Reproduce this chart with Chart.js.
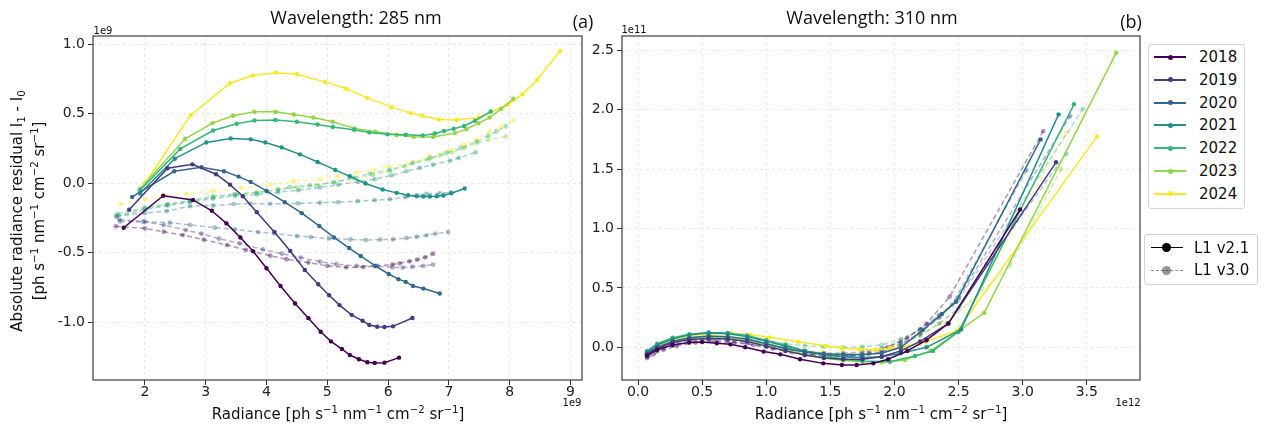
<!DOCTYPE html>
<html><head><meta charset="utf-8">
<script src="https://cdn.jsdelivr.net/npm/chart.js@4.4.1/dist/chart.umd.min.js"></script>
<style>
body{margin:0;background:#fff;}
#wrap{position:relative;width:1261px;height:430px;overflow:hidden;font-family:'DejaVu Sans',sans-serif;color:#111;background:#fff;}
.box{position:absolute;}
.t{position:absolute;white-space:nowrap;transform:translate(-50%,-50%);line-height:1;}
.ttl{font-family:'Open Sans','Liberation Sans',sans-serif;font-size:18px;color:#111;}
.rot{transform:translate(-50%,-50%) rotate(-90deg);}
sup{font-size:0.68em;vertical-align:0.5em;line-height:0}
sub{font-size:0.68em;vertical-align:-0.3em;line-height:0}
.leg{position:absolute;background:#fff;border:1px solid #d4d4d4;border-radius:3px;}
.lrow{position:absolute;left:0;right:0;height:0;}
.lline{position:absolute;height:0;}
.ldot{position:absolute;border-radius:50%;}
.ltxt{position:absolute;font-size:15px;line-height:1;transform:translateY(-50%);white-space:nowrap;color:#111;}
</style></head>
<body><div id="wrap">
<div class="box" style="left:0;top:0;width:600px;height:430px"><canvas id="c285"></canvas></div>
<div class="box" style="left:585px;top:0;width:676px;height:430px"><canvas id="c310"></canvas></div>

<div class="t ttl" style="left:356px;top:17px">Wavelength: 285 nm</div>
<div class="t ttl" style="left:583px;top:21px">(a)</div>
<div class="t ttl" style="left:872px;top:17px">Wavelength: 310 nm</div>
<div class="t ttl" style="left:1131px;top:21px">(b)</div>

<div class="t" style="left:103px;top:31px;font-size:10px">1e9</div>
<div class="t" style="left:634px;top:30px;font-size:10px">1e11</div>
<div class="t" style="left:572px;top:403px;font-size:10px">1e9</div>
<div class="t" style="left:1128px;top:403px;font-size:10px">1e12</div>

<div class="t" style="left:338px;top:414px;font-size:15px">Radiance [ph s<sup>−1</sup> nm<sup>−1</sup> cm<sup>−2</sup> sr<sup>−1</sup>]</div>
<div class="t" style="left:881px;top:414px;font-size:15px">Radiance [ph s<sup>−1</sup> nm<sup>−1</sup> cm<sup>−2</sup> sr<sup>−1</sup>]</div>
<div class="t rot" style="left:17px;top:211px;font-size:15px">Absolute radiance residual I<sub>1</sub> - I<sub>0</sub></div>
<div class="t rot" style="left:39px;top:211px;font-size:15px">[ph s<sup>−1</sup> nm<sup>−1</sup> cm<sup>−2</sup> sr<sup>−1</sup>]</div>

<div id="leg1" class="leg" style="left:1148px;top:44px;width:95px;height:163px"></div>
<div id="leg2" class="leg" style="left:1144px;top:234px;width:112px;height:49px"></div>
</div>
<script>
const years = [2018, 2019, 2020, 2021, 2022, 2023, 2024];
const yearColors = ['#440154', '#443983', '#31688e', '#21918c', '#35b779', '#90d743', '#fde725'];
const versionLabels = ['L1 v2.1', 'L1 v3.0'];

const xTicks285 = [2, 3, 4, 5, 6, 7, 8, 9];
const yTicks285 = [-1.0, -0.5, 0.0, 0.5, 1.0];
const xTicks310 = [0, 0.5, 1.0, 1.5, 2.0, 2.5, 3.0, 3.5];
const yTicks310 = [0, 0.5, 1.0, 1.5, 2.0, 2.5];

// ---- 285 nm, L1 v2.1 (x: 1e9, y: 1e9) ----
const v21_285_2018 = [[1.65,-0.32],[2.30,-0.09],[2.79,-0.12],[3.10,-0.198],[3.34,-0.289],[3.57,-0.39],[3.78,-0.49],[4.00,-0.612],[4.23,-0.739],[4.47,-0.865],[4.69,-0.971],[4.89,-1.069],[5.06,-1.138],[5.24,-1.193],[5.37,-1.236],[5.52,-1.267],[5.66,-1.288],[5.78,-1.293],[5.94,-1.291],[6.18,-1.255]];
const v21_285_2019 = [[1.74,-0.19],[2.37,0.108],[2.78,0.136],[3.17,0.065],[3.40,-0.01],[3.61,-0.093],[3.84,-0.208],[4.13,-0.351],[4.39,-0.488],[4.63,-0.624],[4.85,-0.727],[5.03,-0.806],[5.20,-0.877],[5.40,-0.947],[5.58,-0.99],[5.69,-1.02],[5.82,-1.033],[5.94,-1.035],[6.08,-1.03],[6.40,-0.97]];
const v21_285_2020 = [[1.79,-0.098],[2.48,0.086],[2.93,0.115],[3.30,0.086],[3.54,0.048],[3.74,0.01],[4.00,-0.055],[4.30,-0.136],[4.58,-0.215],[4.87,-0.308],[5.11,-0.39],[5.36,-0.466],[5.55,-0.524],[5.79,-0.595],[6.01,-0.653],[6.17,-0.69],[6.29,-0.71],[6.41,-0.739],[6.58,-0.758],[6.85,-0.793]];
const v21_285_2021 = [[1.92,-0.074],[2.49,0.177],[3.01,0.294],[3.41,0.323],[3.74,0.316],[3.98,0.294],[4.25,0.258],[4.55,0.208],[4.84,0.153],[5.13,0.096],[5.37,0.05],[5.63,-0.002],[5.91,-0.045],[6.14,-0.069],[6.33,-0.086],[6.47,-0.093],[6.58,-0.095],[6.69,-0.095],[6.80,-0.093],[6.91,-0.088],[7.04,-0.072],[7.26,-0.038]];
const v21_285_2022 = [[1.92,-0.05],[2.58,0.247],[3.12,0.38],[3.51,0.428],[3.80,0.452],[4.15,0.455],[4.50,0.443],[4.84,0.423],[5.09,0.405],[5.44,0.385],[5.69,0.366],[5.99,0.352],[6.29,0.349],[6.57,0.344],[6.77,0.359],[6.92,0.376],[7.08,0.392],[7.25,0.412],[7.43,0.45],[7.69,0.517]];
const v21_285_2023 = [[1.92,-0.04],[2.66,0.32],[3.11,0.433],[3.45,0.486],[3.80,0.514],[4.15,0.514],[4.45,0.495],[4.77,0.473],[5.09,0.443],[5.45,0.395],[5.79,0.371],[6.14,0.347],[6.42,0.335],[6.74,0.333],[7.10,0.361],[7.29,0.39],[7.49,0.433],[7.67,0.473],[7.86,0.536],[8.06,0.608]];
const v21_285_2024 = [[2.00,0.0],[2.75,0.49],[3.40,0.72],[3.77,0.775],[4.15,0.796],[4.50,0.785],[4.96,0.73],[5.31,0.68],[5.66,0.615],[6.06,0.548],[6.37,0.505],[6.56,0.486],[6.84,0.459],[7.13,0.455],[7.49,0.474],[7.97,0.565],[8.21,0.64],[8.45,0.744],[8.83,0.952]];

// ---- 285 nm, L1 v3.0 (dashed) ----
const v30_285_a = [[1.52,-0.31],[2.0,-0.325],[2.31,-0.349],[2.62,-0.373],[2.97,-0.406],[3.35,-0.445],[3.66,-0.48],[4.06,-0.521],[4.33,-0.547],[4.69,-0.571],[5.0,-0.595],[5.31,-0.605],[5.59,-0.603],[5.82,-0.595],[6.07,-0.585],[6.19,-0.576],[6.35,-0.562],[6.48,-0.55],[6.61,-0.533],[6.74,-0.507]];
const v30_285_b = [[1.58,-0.262],[1.97,-0.275],[2.31,-0.301],[2.67,-0.337],[2.93,-0.363],[3.22,-0.399],[3.56,-0.433],[3.94,-0.476],[4.25,-0.507],[4.56,-0.535],[4.88,-0.564],[5.15,-0.583],[5.48,-0.595],[5.78,-0.595],[6.07,-0.605],[6.24,-0.607],[6.40,-0.6],[6.58,-0.595],[6.74,-0.585]];
const v30_285_c = [[1.59,-0.275],[2.0,-0.277],[2.41,-0.284],[2.74,-0.299],[3.15,-0.32],[3.48,-0.332],[3.86,-0.351],[4.13,-0.361],[4.5,-0.38],[4.73,-0.387],[5.03,-0.397],[5.38,-0.404],[5.63,-0.409],[5.87,-0.406],[6.08,-0.404],[6.30,-0.394],[6.47,-0.385],[6.63,-0.375],[6.78,-0.363],[6.99,-0.351]];
const v30_285_d = [[1.53,-0.237],[2.0,-0.215],[2.36,-0.2],[2.74,-0.165],[3.12,-0.16],[3.46,-0.15],[3.73,-0.146],[4.06,-0.148],[4.52,-0.145],[4.88,-0.14],[5.18,-0.136],[5.5,-0.129],[5.78,-0.122],[6.03,-0.115],[6.28,-0.1],[6.47,-0.088],[6.63,-0.076],[6.85,-0.072],[7.03,-0.065]];
const v30_285_e = [[1.53,-0.24],[2.0,-0.19],[2.37,-0.16],[2.74,-0.135],[3.12,-0.11],[3.48,-0.09],[3.84,-0.08],[4.19,-0.065],[4.52,-0.05],[4.88,-0.03],[5.18,-0.01],[5.5,0.01],[5.78,0.03],[6.06,0.057],[6.3,0.086],[6.52,0.11],[6.74,0.134],[7.02,0.163],[7.16,0.182],[7.44,0.222]];
const v30_285_f = [[1.55,-0.22],[2.0,-0.175],[2.37,-0.15],[2.74,-0.125],[3.12,-0.095],[3.48,-0.078],[3.84,-0.065],[4.19,-0.045],[4.38,-0.028],[4.71,-0.015],[5.1,0.005],[5.43,0.04],[5.7,0.07],[6.03,0.098],[6.41,0.146],[6.69,0.182],[6.96,0.218],[7.2,0.254],[7.46,0.301],[7.65,0.342],[7.78,0.373],[7.94,0.409]];
const v30_285_g = [[1.55,-0.23],[2.0,-0.18],[2.37,-0.155],[2.74,-0.13],[3.12,-0.1],[3.48,-0.08],[3.84,-0.067],[4.19,-0.048],[4.5,-0.03],[4.82,-0.015],[5.12,0.01],[5.45,0.035],[5.75,0.06],[6.03,0.086],[6.28,0.122],[6.66,0.17],[6.85,0.199],[7.06,0.222],[7.26,0.254],[7.46,0.29],[7.65,0.313],[7.94,0.337]];
const v30_285_h = [[1.59,-0.153],[2.0,-0.117],[2.33,-0.088],[2.69,-0.074],[3.12,-0.057],[3.59,-0.033],[4.06,-0.01],[4.44,0.015],[4.88,0.027],[5.18,0.05],[5.48,0.075],[5.76,0.098],[6.0,0.12],[6.39,0.15],[6.69,0.194],[7.0,0.237],[7.24,0.278],[7.46,0.318],[7.67,0.373],[7.86,0.405],[8.06,0.452]];
const v30_285_colors = ['#440154', '#443983', '#31688e', '#287d8e', '#21918c', '#35b779', '#90d743', '#fde725'];

// ---- 310 nm, L1 v2.1 (x: 1e12, y: 1e11) ----
const v21_310_2018 = [[0.07,-0.07],[0.15,-0.02],[0.27,0.02],[0.4,0.04],[0.5,0.045],[0.615,0.034],[0.72,0.025],[0.836,0.0],[0.98,-0.036],[1.11,-0.059],[1.264,-0.1],[1.445,-0.135],[1.59,-0.149],[1.705,-0.149],[1.835,-0.135],[1.95,-0.1],[2.1,-0.03],[2.25,0.06],[2.42,0.2],[2.98,1.16]];
const v21_310_2019 = [[0.07,-0.06],[0.15,-0.01],[0.27,0.04],[0.4,0.065],[0.55,0.075],[0.7,0.07],[0.85,0.05],[1.0,0.01],[1.15,-0.03],[1.3,-0.065],[1.45,-0.09],[1.6,-0.1],[1.75,-0.1],[1.9,-0.08],[2.05,-0.03],[2.2,0.05],[2.42,0.2],[3.26,1.557]];
const v21_310_2020 = [[0.07,-0.05],[0.15,0.0],[0.27,0.05],[0.4,0.08],[0.55,0.095],[0.7,0.09],[0.85,0.07],[1.0,0.03],[1.15,-0.01],[1.3,-0.04],[1.45,-0.055],[1.6,-0.06],[1.75,-0.06],[1.9,-0.05],[2.05,0.0],[2.22,0.145],[2.37,0.28],[2.48,0.383],[3.14,1.75]];
const v21_310_2021 = [[0.07,-0.04],[0.15,0.02],[0.27,0.07],[0.4,0.105],[0.55,0.12],[0.7,0.115],[0.85,0.09],[1.0,0.05],[1.15,0.01],[1.3,-0.03],[1.45,-0.06],[1.6,-0.08],[1.75,-0.085],[1.9,-0.08],[2.05,-0.05],[2.25,0.0],[2.52,0.15],[3.28,1.96]];
const v21_310_2022 = [[0.07,-0.03],[0.15,0.03],[0.27,0.08],[0.4,0.11],[0.55,0.125],[0.7,0.12],[0.85,0.1],[1.0,0.06],[1.15,0.02],[1.3,-0.03],[1.45,-0.07],[1.6,-0.1],[1.75,-0.115],[1.965,-0.121],[2.16,-0.073],[2.3,-0.03],[2.5,0.13],[3.40,2.045]];
const v21_310_2023 = [[0.07,-0.05],[0.15,0.0],[0.27,0.05],[0.4,0.08],[0.55,0.09],[0.7,0.085],[0.85,0.06],[1.0,0.02],[1.15,-0.02],[1.3,-0.06],[1.45,-0.09],[1.6,-0.11],[1.75,-0.12],[1.9,-0.125],[2.08,-0.107],[2.28,-0.031],[2.70,0.29],[3.73,2.48]];
const v21_310_2024 = [[0.07,-0.04],[0.15,0.01],[0.27,0.06],[0.4,0.1],[0.56,0.112],[0.73,0.118],[0.875,0.105],[1.025,0.084],[1.25,0.047],[1.47,0.011],[1.59,-0.008],[1.73,-0.017],[1.85,-0.023],[1.965,-0.008],[2.07,0.005],[2.24,0.047],[2.49,0.14],[3.58,1.775]];

// ---- 310 nm, L1 v3.0 (dashed) ----
const v30_310_2018 = [[0.07,-0.09],[0.12,-0.06],[0.2,-0.02],[0.3,0.01],[0.45,0.04],[0.6,0.05],[0.75,0.04],[0.9,0.02],[1.05,-0.01],[1.2,-0.04],[1.35,-0.06],[1.5,-0.07],[1.65,-0.07],[1.8,-0.05],[1.95,0.0],[2.1,0.08],[2.25,0.2],[2.43,0.425],[3.16,1.82]];
const v30_310_2019 = [[0.07,-0.08],[0.15,-0.03],[0.27,0.02],[0.4,0.05],[0.55,0.06],[0.7,0.055],[0.85,0.035],[1.0,0.0],[1.15,-0.03],[1.3,-0.06],[1.45,-0.075],[1.6,-0.08],[1.75,-0.07],[1.9,-0.04],[2.05,0.03],[2.2,0.12],[2.35,0.25],[2.5,0.42],[3.37,1.946]];
const v30_310_2020 = [[0.07,-0.07],[0.15,-0.02],[0.27,0.03],[0.4,0.06],[0.55,0.075],[0.7,0.07],[0.85,0.05],[1.0,0.02],[1.15,-0.01],[1.3,-0.035],[1.45,-0.05],[1.6,-0.05],[1.75,-0.04],[1.9,-0.01],[2.05,0.05],[2.2,0.15],[2.35,0.27],[2.45,0.36],[3.03,1.49]];
const v30_310_2021 = [[0.07,-0.06],[0.15,-0.01],[0.27,0.04],[0.4,0.07],[0.55,0.085],[0.7,0.08],[0.85,0.06],[1.0,0.03],[1.15,0.0],[1.3,-0.03],[1.45,-0.055],[1.6,-0.07],[1.75,-0.07],[1.9,-0.04],[2.05,0.02],[2.2,0.1],[2.35,0.2],[2.5,0.33],[2.72,0.70],[3.34,1.63]];
const v30_310_2022 = [[0.07,-0.05],[0.15,0.0],[0.27,0.05],[0.4,0.08],[0.55,0.095],[0.7,0.09],[0.85,0.075],[1.0,0.05],[1.15,0.03],[1.3,0.015],[1.45,0.005],[1.6,0.0],[1.75,0.005],[1.9,0.02],[2.05,0.07],[2.2,0.15],[2.35,0.27],[2.5,0.4],[3.47,2.008]];
const v30_310_2023 = [[0.07,-0.06],[0.15,-0.015],[0.27,0.035],[0.4,0.065],[0.55,0.075],[0.7,0.07],[0.85,0.05],[1.0,0.015],[1.15,-0.02],[1.3,-0.05],[1.45,-0.075],[1.6,-0.09],[1.75,-0.095],[1.9,-0.08],[2.05,-0.04],[2.2,0.03],[2.4,0.2],[2.90,0.686],[3.30,1.5]];
const v30_310_2024 = [[0.07,-0.04],[0.15,0.0],[0.27,0.04],[0.4,0.07],[0.55,0.08],[0.7,0.075],[0.85,0.06],[1.0,0.03],[1.15,0.0],[1.3,-0.025],[1.45,-0.04],[1.6,-0.045],[1.75,-0.04],[1.9,-0.02],[2.05,0.03],[2.2,0.1],[2.35,0.2],[2.63,0.4],[3.34,1.81]];

const solid285 = [v21_285_2018, v21_285_2019, v21_285_2020, v21_285_2021, v21_285_2022, v21_285_2023, v21_285_2024];
const dashed285 = [v30_285_a, v30_285_b, v30_285_c, v30_285_d, v30_285_e, v30_285_f, v30_285_g, v30_285_h];
const solid310 = [v21_310_2018, v21_310_2019, v21_310_2020, v21_310_2021, v21_310_2022, v21_310_2023, v21_310_2024];
const dashed310 = [v30_310_2018, v30_310_2019, v30_310_2020, v30_310_2021, v30_310_2022, v30_310_2023, v30_310_2024];

function rgba(hex, a) {
  const n = parseInt(hex.slice(1), 16);
  return `rgba(${(n >> 16) & 255},${(n >> 8) & 255},${n & 255},${a})`;
}
function pts(arr) { return arr.map(p => ({x: p[0], y: p[1]})); }
function solidDs(arr, color, label) {
  return {label, data: pts(arr), showLine: true, borderColor: color, backgroundColor: color,
    borderWidth: 1.5, pointRadius: 2.2, pointBorderWidth: 0, pointBackgroundColor: color,
    pointHoverRadius: 0, order: 0};
}
function dashDs(arr, color, label) {
  const c = rgba(color, 0.42);
  return {label, data: pts(arr), showLine: true, borderColor: c, backgroundColor: c,
    borderWidth: 1.5, borderDash: [5, 3], pointRadius: 2.4, pointBorderWidth: 0, pointBackgroundColor: c,
    pointHoverRadius: 0, order: 1};
}
function fmt(v, dec) {
  const s = Math.abs(v).toFixed(dec);
  return (v < -1e-9 ? '-' : '') + s;
}
const framePlugin = {
  id: 'frame',
  afterDraw(chart) {
    const a = chart.chartArea, ctx = chart.ctx;
    ctx.save();
    ctx.strokeStyle = '#3c3c3c';
    ctx.lineWidth = 1.2;
    ctx.setLineDash([]);
    ctx.strokeRect(a.left, a.top, a.right - a.left, a.bottom - a.top);
    ctx.restore();
  }
};
function axis(min, max, ticks, dec, isY, fixed) {
  return {
    type: 'linear', min, max,
    afterBuildTicks: s => { s.ticks = ticks.map(v => ({value: v})); },
    afterFit: s => { if (isY) s.width = fixed; else s.height = fixed; },
    ticks: {callback: v => fmt(v, dec), color: '#222', font: {family: "'DejaVu Sans', sans-serif", size: 14, lineHeight: 1},
      padding: isY ? 3 : 0, maxRotation: 0, autoSkip: false},
    grid: {color: '#e2e2e2', lineWidth: 0.8, tickColor: '#333', tickLength: 5, tickWidth: 1, tickBorderDash: []},
    border: {display: false, dash: [3, 3]}
  };
}
function makeChart(id, solids, dashes, dashColors, xr, yr, xt, yt, xDec, yDec, yW, padR) {
  const datasets = [];
  dashes.forEach((d, i) => datasets.push(dashDs(d, dashColors[i], 'v3.0 ' + i)));
  solids.forEach((d, i) => datasets.push(solidDs(d, yearColors[i], String(years[i]))));
  return new Chart(document.getElementById(id), {
    type: 'scatter',
    data: {datasets},
    options: {
      responsive: true, maintainAspectRatio: false, animation: false, events: [],
      layout: {padding: {left: 0, right: padR, top: 36, bottom: 0}},
      plugins: {legend: {display: false}, tooltip: {enabled: false}, title: {display: false}},
      scales: {
        x: axis(xr[0], xr[1], xt, xDec, false, 50),
        y: axis(yr[0], yr[1], yt, yDec, true, yW)
      }
    },
    plugins: [framePlugin]
  });
}
makeChart('c285', solid285, dashed285, v30_285_colors, [1.145, 9.19], [-1.416, 1.06], xTicks285, yTicks285, 0, 1, 93, 18);
makeChart('c310', solid310, dashed310, yearColors, [-0.125, 3.915], [-0.275, 2.62], xTicks310, yTicks310, 1, 1, 37, 121);

// legends
const leg1 = document.getElementById('leg1');
years.forEach((y, i) => {
  const top = 12 + i * 22.8;
  const r = document.createElement('div'); r.className = 'lrow'; r.style.top = top + 'px';
  r.innerHTML = `<div class="lline" style="left:5px;width:32px;top:-1px;border-top:2px solid ${yearColors[i]}"></div>` +
    `<div class="ldot" style="left:18.5px;top:-2.5px;width:5px;height:5px;background:${yearColors[i]}"></div>` +
    `<div class="ltxt" style="left:50px;top:0">${y}</div>`;
  leg1.appendChild(r);
});
const leg2 = document.getElementById('leg2');
versionLabels.forEach((lab, i) => {
  const top = 12.5 + i * 22.6;
  const dashed = i === 1;
  const col = dashed ? 'rgba(0,0,0,0.42)' : '#000';
  const r = document.createElement('div'); r.className = 'lrow'; r.style.top = top + 'px';
  r.innerHTML = `<div class="lline" style="left:6px;width:32px;top:-0.5px;border-top:1.3px ${dashed ? 'dashed' : 'solid'} ${col}"></div>` +
    `<div class="ldot" style="left:17px;top:-4.5px;width:9px;height:9px;background:${col}"></div>` +
    `<div class="ltxt" style="left:49px;top:0">${lab}</div>`;
  leg2.appendChild(r);
});
</script>
</body></html>
